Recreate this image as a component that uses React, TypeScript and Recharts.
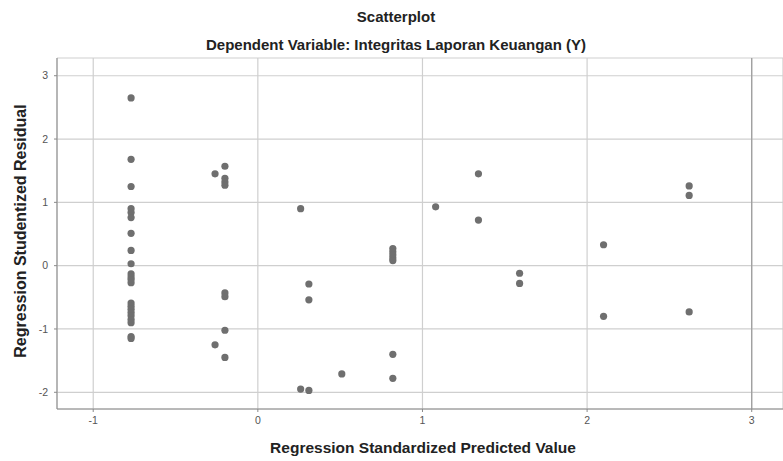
import React from "react";
import { ScatterChart, Scatter, XAxis, YAxis, CartesianGrid, ReferenceLine } from "recharts";

const xTicks = [-1, 0, 1, 2, 3];
const yTicks = [-2, -1, 0, 1, 2, 3];

const predicted = [
  -0.77, -0.77, -0.77, -0.77, -0.77, -0.77, -0.77, -0.77, -0.77, -0.77, -0.77,
  -0.77, -0.77, -0.77, -0.77, -0.77, -0.77, -0.77, -0.77, -0.77, -0.77, -0.77,
  -0.26, -0.26,
  -0.2, -0.2, -0.2, -0.2, -0.2, -0.2, -0.2, -0.2,
  0.26, 0.26,
  0.31, 0.31, 0.31,
  0.51,
  0.82, 0.82, 0.82, 0.82, 0.82, 0.82, 0.82,
  1.08,
  1.34, 1.34,
  1.59, 1.59,
  2.1, 2.1,
  2.62, 2.62, 2.62,
];

const residual = [
  2.65, 1.68, 1.25, 0.9, 0.84, 0.76, 0.51, 0.24, 0.03, -0.13, -0.18,
  -0.22, -0.27, -0.59, -0.64, -0.69, -0.74, -0.79, -0.85, -0.9, -1.12, -1.15,
  1.45, -1.25,
  1.57, 1.38, 1.32, 1.27, -0.43, -0.49, -1.02, -1.45,
  0.9, -1.95,
  -0.29, -0.54, -1.97,
  -1.71,
  0.27, 0.22, 0.17, 0.12, 0.08, -1.4, -1.78,
  0.93,
  1.45, 0.72,
  -0.12, -0.28,
  0.33, -0.8,
  1.26, 1.11, -0.73,
];

const points = predicted.map((x, i) => ({ x, y: residual[i] }));

const FONT = "'Liberation Sans', Arial, sans-serif";

const Dot = (props: any) => (
  <circle cx={props.cx} cy={props.cy} r={3.6} fill="#6f6f6f" />
);

export default function App() {
  return (
    <div style={{ position: "absolute", left: 0, top: 0, width: 783, height: 461, background: "#fff" }}>
      <ScatterChart
        width={783}
        height={461}
        margin={{ top: 58, right: 0, bottom: 0, left: 0 }}
      >
        <CartesianGrid stroke="#cfcfcf" strokeWidth={1.2} />
        <XAxis
          type="number"
          dataKey="x"
          domain={[-1.22, 3.19]}
          ticks={xTicks}
          allowDataOverflow
          height={52}
          tickSize={3}
          tickMargin={5}
          stroke="#8a8a8a"
          tick={{ fill: "#555", fontSize: 10.5, fontFamily: FONT }}
        />
        <YAxis
          type="number"
          dataKey="y"
          domain={[-2.264, 3.28]}
          ticks={yTicks}
          allowDataOverflow
          width={57}
          tickSize={3}
          tickMargin={6}
          stroke="#8a8a8a"
          tick={{ fill: "#555", fontSize: 10.5, fontFamily: FONT }}
        />
        <ReferenceLine x={3} stroke="#9a9a9a" strokeWidth={1.2} />
        <Scatter data={points} shape={Dot} isAnimationActive={false} />
      </ScatterChart>
      <svg
        width={783}
        height={461}
        style={{ position: "absolute", left: 0, top: 0, pointerEvents: "none" }}
      >
        <text x={396} y={22} textAnchor="middle" fontFamily={FONT} fontSize={15} fontWeight="bold" fill="#222">
          Scatterplot
        </text>
        <text x={396} y={50} textAnchor="middle" fontFamily={FONT} fontSize={15} fontWeight="bold" fill="#222">
          Dependent Variable: Integritas Laporan Keuangan (Y)
        </text>
        <text x={423} y={453} textAnchor="middle" fontFamily={FONT} fontSize={15.5} fontWeight="bold" fill="#222">
          Regression Standardized Predicted Value
        </text>
        <text
          x={0}
          y={0}
          transform="translate(26,231) rotate(-90)"
          textAnchor="middle"
          fontFamily={FONT}
          fontSize={16}
          fontWeight="bold"
          fill="#222"
        >
          Regression Studentized Residual
        </text>
      </svg>
    </div>
  );
}
